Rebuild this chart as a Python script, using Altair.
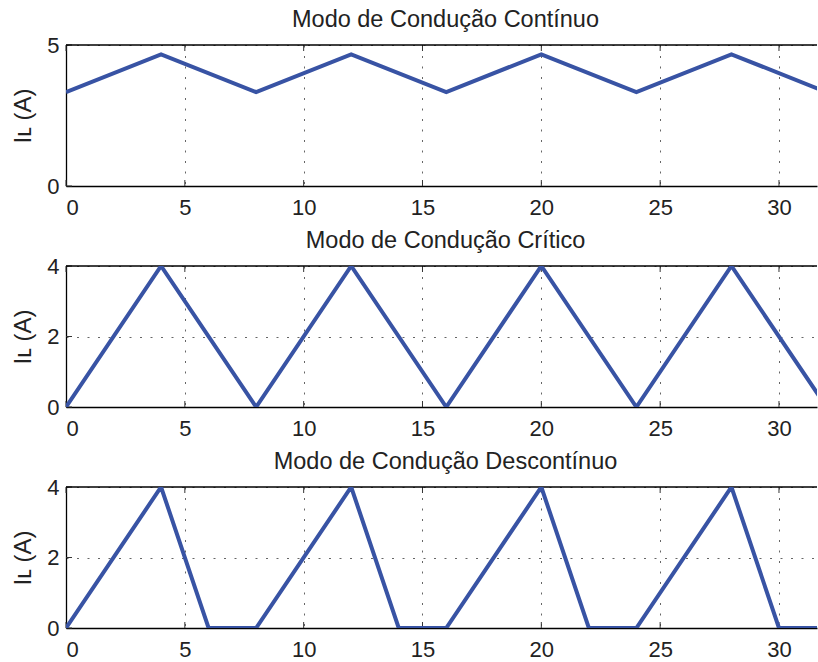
import altair as alt
import pandas as pd

# Inductor current waveforms for the three conduction modes (time in µs, current in A)
t_cont = [0, 4, 8, 12, 16, 20, 24, 28, 32]
i_cont = [3.33, 4.67, 3.33, 4.67, 3.33, 4.67, 3.33, 4.67, 3.33]

t_crit = [0, 4, 8, 12, 16, 20, 24, 28, 32]
i_crit = [0, 4, 0, 4, 0, 4, 0, 4, 0]

t_desc = [0, 4, 6, 8, 12, 14, 16, 20, 22, 24, 28, 30, 32]
i_desc = [0, 4, 0, 0, 4, 0, 0, 4, 0, 0, 4, 0, 0]

titles = [
    "Modo de Condução Contínuo",
    "Modo de Condução Crítico",
    "Modo de Condução Descontínuo",
]
x_ticks = [0, 5, 10, 15, 20, 25, 30]
y_ticks_cont = [0, 5]
y_ticks_other = [0, 2, 4]
x_max = 31.6

W, H = 751, 141
FONT = "Liberation Sans"
LINE_COLOR = "#3853a4"
TICK_LEN = 6


def panel(t, i, title, y_max, y_ticks):
    df = pd.DataFrame({"t": t, "i": i})
    xs = alt.Scale(domain=[0, x_max], nice=False, zero=False)
    ys = alt.Scale(domain=[0, y_max], nice=False)

    x_axis = alt.Axis(
        values=x_ticks, title=None, grid=True, gridDash=[2, 8.5], gridColor="#666",
        gridWidth=1, tickSize=0, labelPadding=11, domainColor="#000", domainWidth=1.3,
        labelFont=FONT, labelFontSize=22, labelColor="#222",
    )
    y_axis = alt.Axis(
        values=y_ticks, title="Iʟ (A)", grid=True, gridDash=[2, 8.5], gridColor="#666",
        gridWidth=1, tickSize=0, labelPadding=7, domainColor="#000", domainWidth=1.3,
        labelFont=FONT, labelFontSize=22, labelColor="#222",
        titleFont=FONT, titleFontSize=24, titleFontWeight="normal", titleColor="#222",
        titlePadding=11,
    )

    line = alt.Chart(df).mark_line(
        color=LINE_COLOR, strokeWidth=4, clip=True
    ).encode(
        x=alt.X("t:Q", scale=xs, axis=x_axis),
        y=alt.Y("i:Q", scale=ys, axis=y_axis),
    )

    xt = pd.DataFrame({"v": x_ticks})
    yt = pd.DataFrame({"v": y_ticks})
    tick_style = dict(color="#333", strokeWidth=1)

    xb = alt.Chart(xt).mark_rule(**tick_style).encode(
        x=alt.X("v:Q", scale=xs), y=alt.value(H), y2=alt.value(H - TICK_LEN))
    xtop = alt.Chart(xt).mark_rule(**tick_style).encode(
        x=alt.X("v:Q", scale=xs), y=alt.value(0), y2=alt.value(TICK_LEN))
    yl = alt.Chart(yt).mark_rule(**tick_style).encode(
        y=alt.Y("v:Q", scale=ys), x=alt.value(0), x2=alt.value(TICK_LEN))

    # upper frame line of the axes box
    top = alt.Chart(pd.DataFrame({"v": [0]})).mark_rule(
        color="#000", strokeWidth=1.3
    ).encode(x=alt.value(0), x2=alt.value(W), y=alt.value(0))

    return alt.layer(xb, xtop, yl, top, line).properties(
        width=W, height=H,
        title=alt.TitleParams(
            title, font=FONT, fontSize=23.5, fontWeight="normal", color="#222",
            anchor="middle", offset=3, dx=4,
        ),
    )


chart = alt.vconcat(
    panel(t_cont, i_cont, titles[0], 5, y_ticks_cont),
    panel(t_crit, i_crit, titles[1], 4, y_ticks_other),
    panel(t_desc, i_desc, titles[2], 4, y_ticks_other),
    spacing=80, bounds="flush",
).properties(
    padding={"left": 11, "top": 7, "right": 0, "bottom": 2},
    background="white",
).configure_view(stroke=None)

chart.save("out.html", embed_options={"renderer": "svg", "actions": False})
